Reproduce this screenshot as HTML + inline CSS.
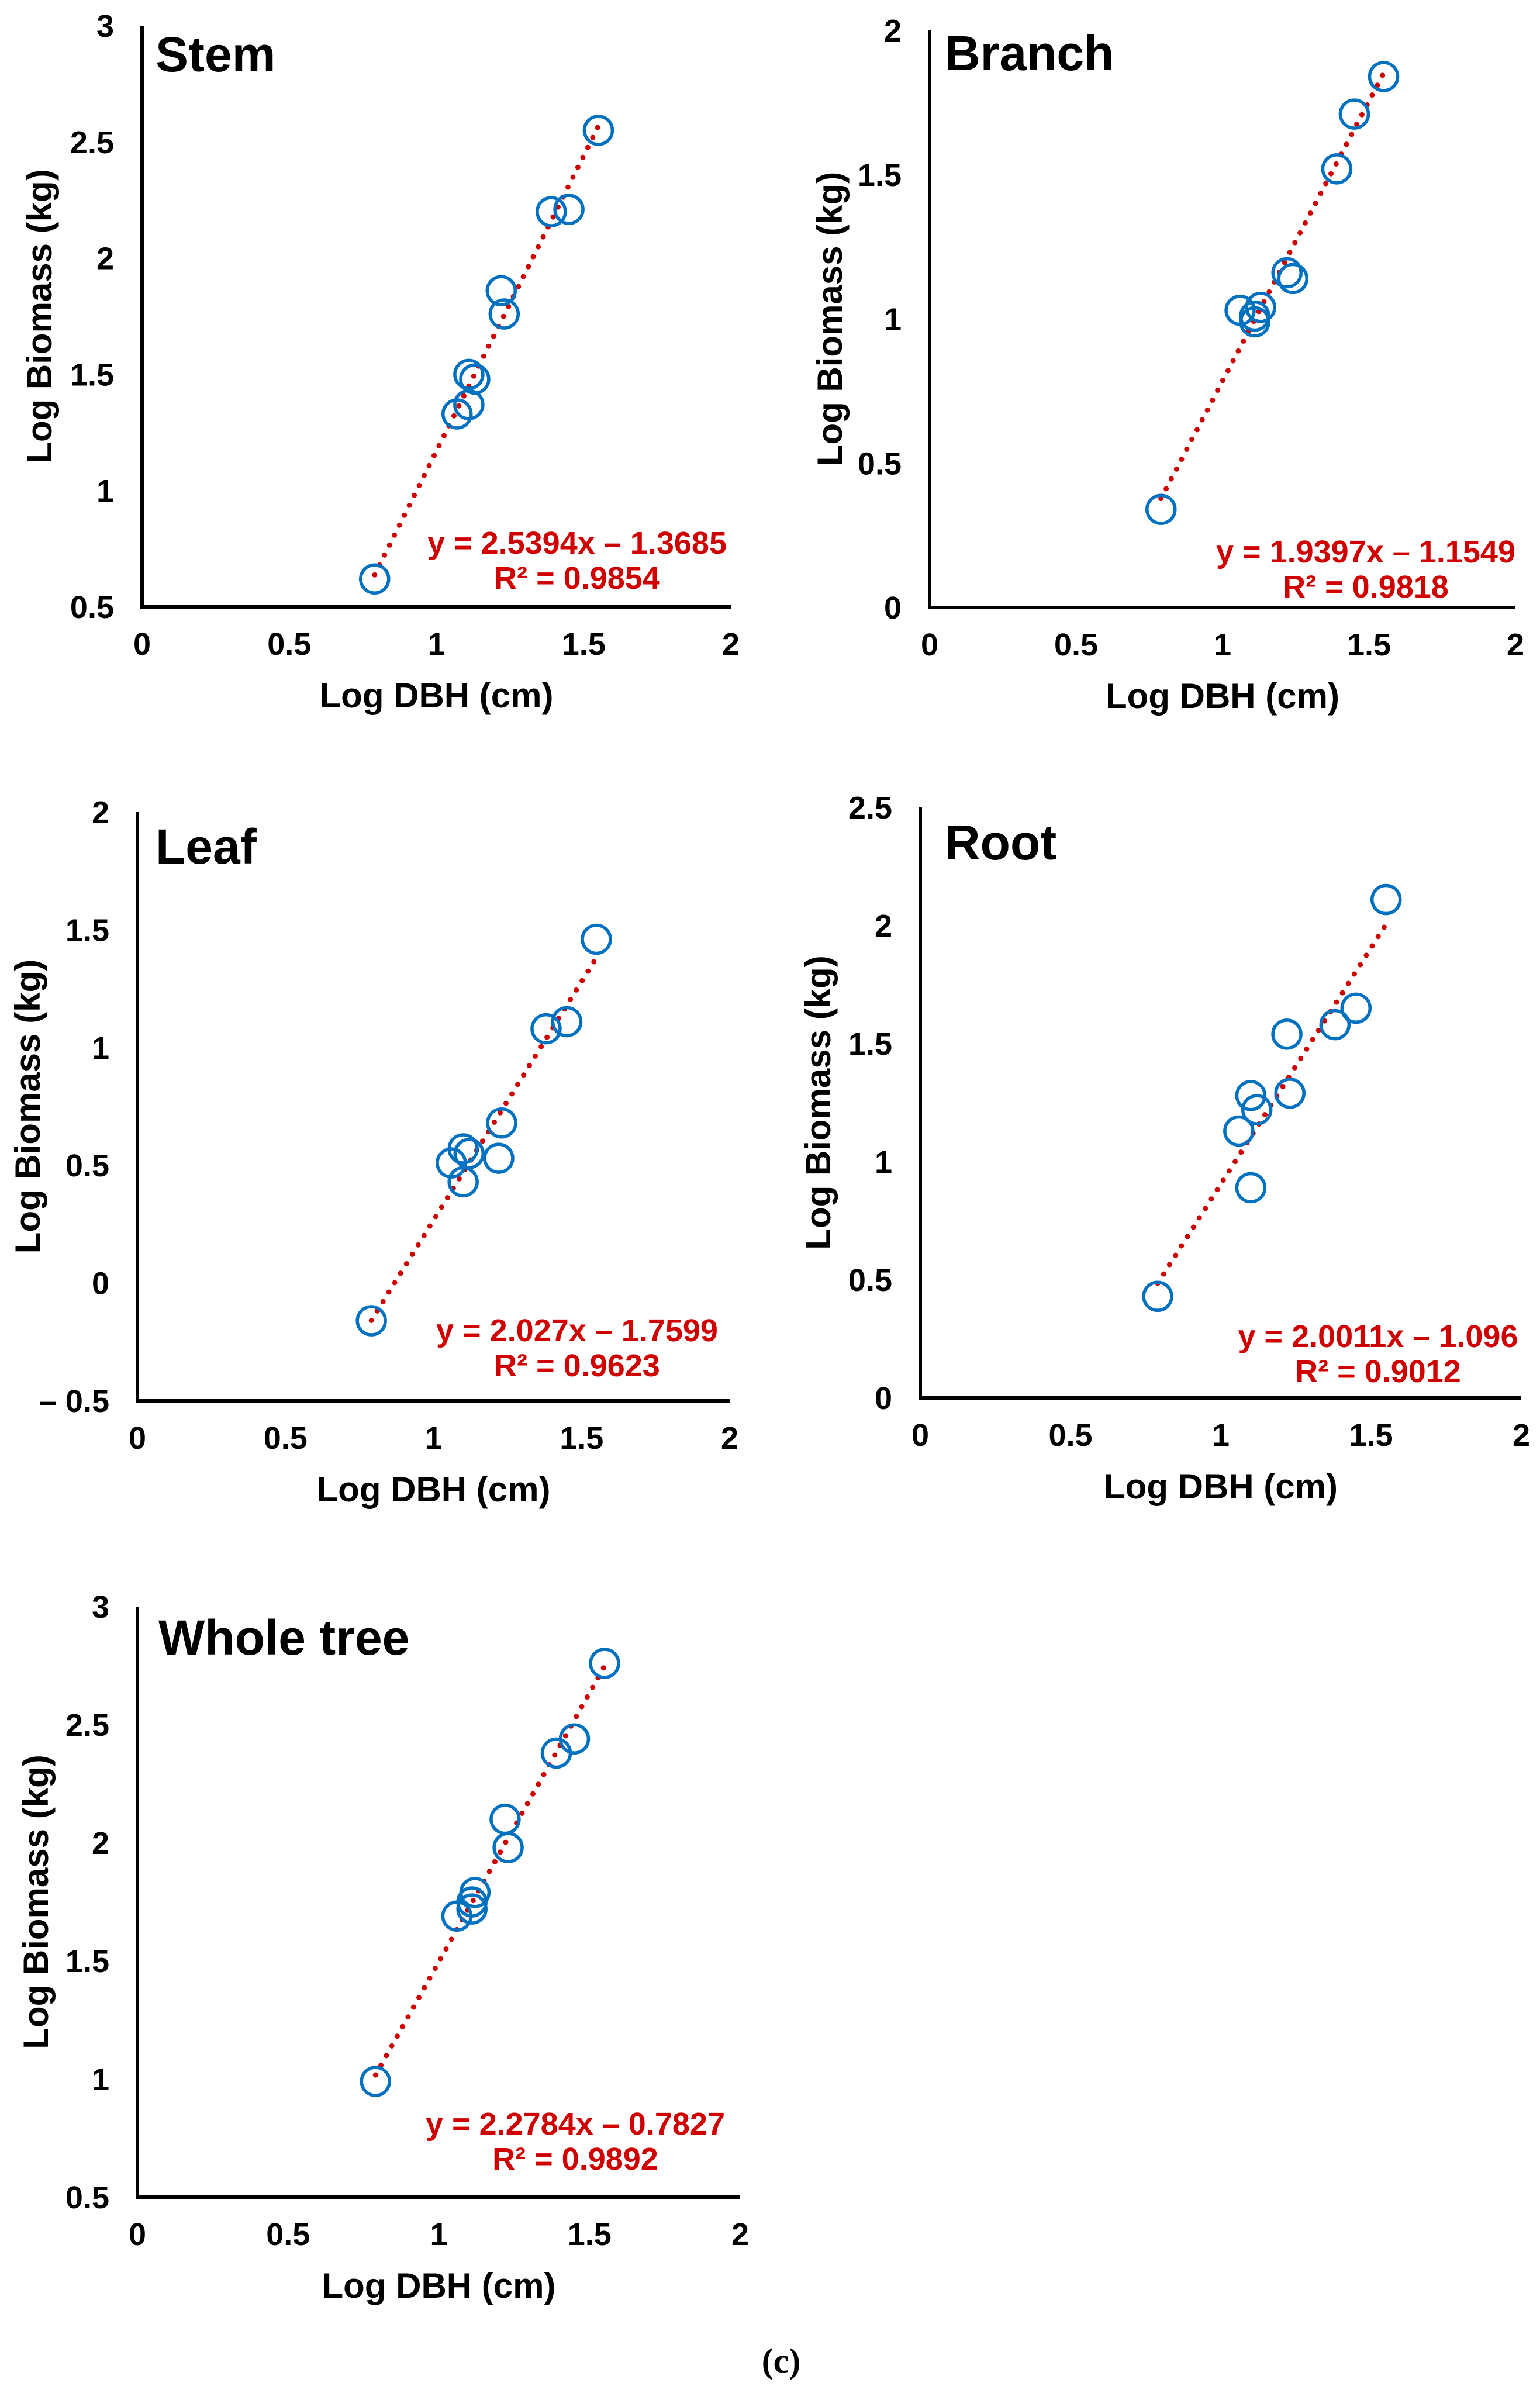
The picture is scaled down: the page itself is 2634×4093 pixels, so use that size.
<!DOCTYPE html>
<html><head><meta charset="utf-8"><style>
html,body{margin:0;padding:0;background:#fff}
svg{display:block}
text{font-family:"Liberation Sans",Arial,sans-serif;font-weight:bold}
</style></head><body>
<svg id="fig" width="2634" height="4093" viewBox="0 0 2634 4093" xmlns="http://www.w3.org/2000/svg">
<text x="1336" y="4058" font-size="60" text-anchor="middle" style="font-family:'Liberation Serif',serif">(c)</text>
</svg>
<script>
const xTicks = [0, 0.5, 1, 1.5, 2];
const stemX = [0.79, 1.07, 1.11, 1.11, 1.13, 1.22, 1.23, 1.39, 1.45, 1.55];
const stemY = [0.62, 1.33, 1.37, 1.50, 1.48, 1.86, 1.76, 2.20, 2.21, 2.55];
const stemTicks = [0.5, 1, 1.5, 2, 2.5, 3];
const stemFit = [2.5394, -1.3685];
const branchX = [0.79, 1.06, 1.11, 1.11, 1.13, 1.22, 1.24, 1.39, 1.45, 1.55];
const branchY = [0.34, 1.03, 1.01, 0.99, 1.04, 1.16, 1.14, 1.52, 1.71, 1.84];
const branchTicks = [0, 0.5, 1, 1.5, 2];
const branchFit = [1.9397, -1.1549];
const leafX = [0.79, 1.06, 1.10, 1.12, 1.10, 1.22, 1.23, 1.38, 1.45, 1.55];
const leafY = [-0.16, 0.51, 0.57, 0.55, 0.43, 0.53, 0.68, 1.08, 1.11, 1.46];
const leafTicks = [-0.5, 0, 0.5, 1, 1.5, 2];
const leafFit = [2.027, -1.7599];
const rootX = [0.79, 1.06, 1.10, 1.12, 1.10, 1.22, 1.23, 1.38, 1.45, 1.55];
const rootY = [0.43, 1.13, 1.28, 1.22, 0.89, 1.54, 1.29, 1.58, 1.65, 2.11];
const rootTicks = [0, 0.5, 1, 1.5, 2, 2.5];
const rootFit = [2.0011, -1.096];
const wholeX = [0.79, 1.06, 1.11, 1.11, 1.12, 1.22, 1.23, 1.39, 1.45, 1.55];
const wholeY = [0.99, 1.69, 1.72, 1.75, 1.79, 2.10, 1.98, 2.38, 2.44, 2.76];
const wholeTicks = [0.5, 1, 1.5, 2, 2.5, 3];
const wholeFit = [2.2784, -0.7827];

const NS = "http://www.w3.org/2000/svg";
const svg = document.getElementById('fig');
function mk(tag, attrs, parent){const e=document.createElementNS(NS,tag);for(const k in attrs)e.setAttribute(k,attrs[k]);(parent||svg).appendChild(e);return e;}
function fmt(v){return v<0?'\u2013 '+Math.abs(v):String(v);}

function panel(key,title,xs,ys,yt,fit,box,eqLines,eqPos,titlePos,yTitleX){
  const g=mk('g',{});
  
  
  const [L,R,T,B]=box;
  const y0=yt[0], y1=yt[yt.length-1];
  const sx=v=>L+(v-0)/(2-0)*(R-L);
  const sy=v=>B-(v-y0)/(y1-y0)*(B-T);
  const ax=mk('path',{d:`M${L},${T} L${L},${B} L${R},${B}`,fill:'none',stroke:'#000','stroke-width':6},g);
  
  
  xTicks.forEach(v=>{const t=mk('text',{x:sx(v),y:B+82,'font-size':54,'text-anchor':'middle'},g);t.textContent=v;
    
    });
  yt.forEach(v=>{const t=mk('text',{x:L-48,y:sy(v)+19,'font-size':54,'text-anchor':'end'},g);t.textContent=fmt(v);
    
    });
  const xt=mk('text',{x:(L+R)/2,y:B+172,'font-size':60,'text-anchor':'middle'},g);xt.textContent='Log DBH (cm)';
  
  
  const cy=(T+B)/2;
  const yti=mk('text',{x:yTitleX,y:cy,'font-size':60,'text-anchor':'middle',transform:`rotate(-90 ${yTitleX} ${cy})`},g);yti.textContent='Log Biomass (kg)';
  
  
  const tt=mk('text',{x:titlePos[0],y:titlePos[1],'font-size':84},g);tt.textContent=title;
  
  
  const xmin=Math.min(...xs), xmax=Math.max(...xs);
  const tl=mk('line',{x1:sx(xmin),y1:sy(fit[0]*xmin+fit[1]),x2:sx(xmax),y2:sy(fit[0]*xmax+fit[1]),stroke:'#D00000','stroke-width':9,'stroke-linecap':'round','stroke-dasharray':'0 19'},g);
  
  
  xs.forEach((x,i)=>{const c=mk('circle',{cx:sx(x),cy:sy(ys[i]),r:24,fill:'none',stroke:'#0070C0','stroke-width':5.5},g);
    
    });
  eqLines.forEach((s,i)=>{const t=mk('text',{x:eqPos[0],y:eqPos[1]+i*60,'font-size':54,'text-anchor':'middle',fill:'#D00000'},g);t.textContent=s;
    
    });
}
panel('stem','Stem',stemX,stemY,stemTicks,stemFit,[243,1250,44,1038],['y = 2.5394x \u2013 1.3685','R\u00b2 = 0.9854'],[987,947],[266,122],88);
panel('branch','Branch',branchX,branchY,branchTicks,branchFit,[1590,2592,52,1039],['y = 1.9397x \u2013 1.1549','R\u00b2 = 0.9818'],[2336,962],[1616,120],1440);
panel('leaf','Leaf',leafX,leafY,leafTicks,leafFit,[235,1248,1389,2396],['y = 2.027x \u2013 1.7599','R\u00b2 = 0.9623'],[987,2294],[266,1477],68);
panel('root','Root',rootX,rootY,rootTicks,rootFit,[1574,2602,1381,2391],['y = 2.0011x \u2013 1.096','R\u00b2 = 0.9012'],[2357,2304],[1616,1470],1420);
panel('whole','Whole tree',wholeX,wholeY,wholeTicks,wholeFit,[235,1266,2748,3758],['y = 2.2784x \u2013 0.7827','R\u00b2 = 0.9892'],[984,3651],[271,2830],82);
</script>
</body></html>
